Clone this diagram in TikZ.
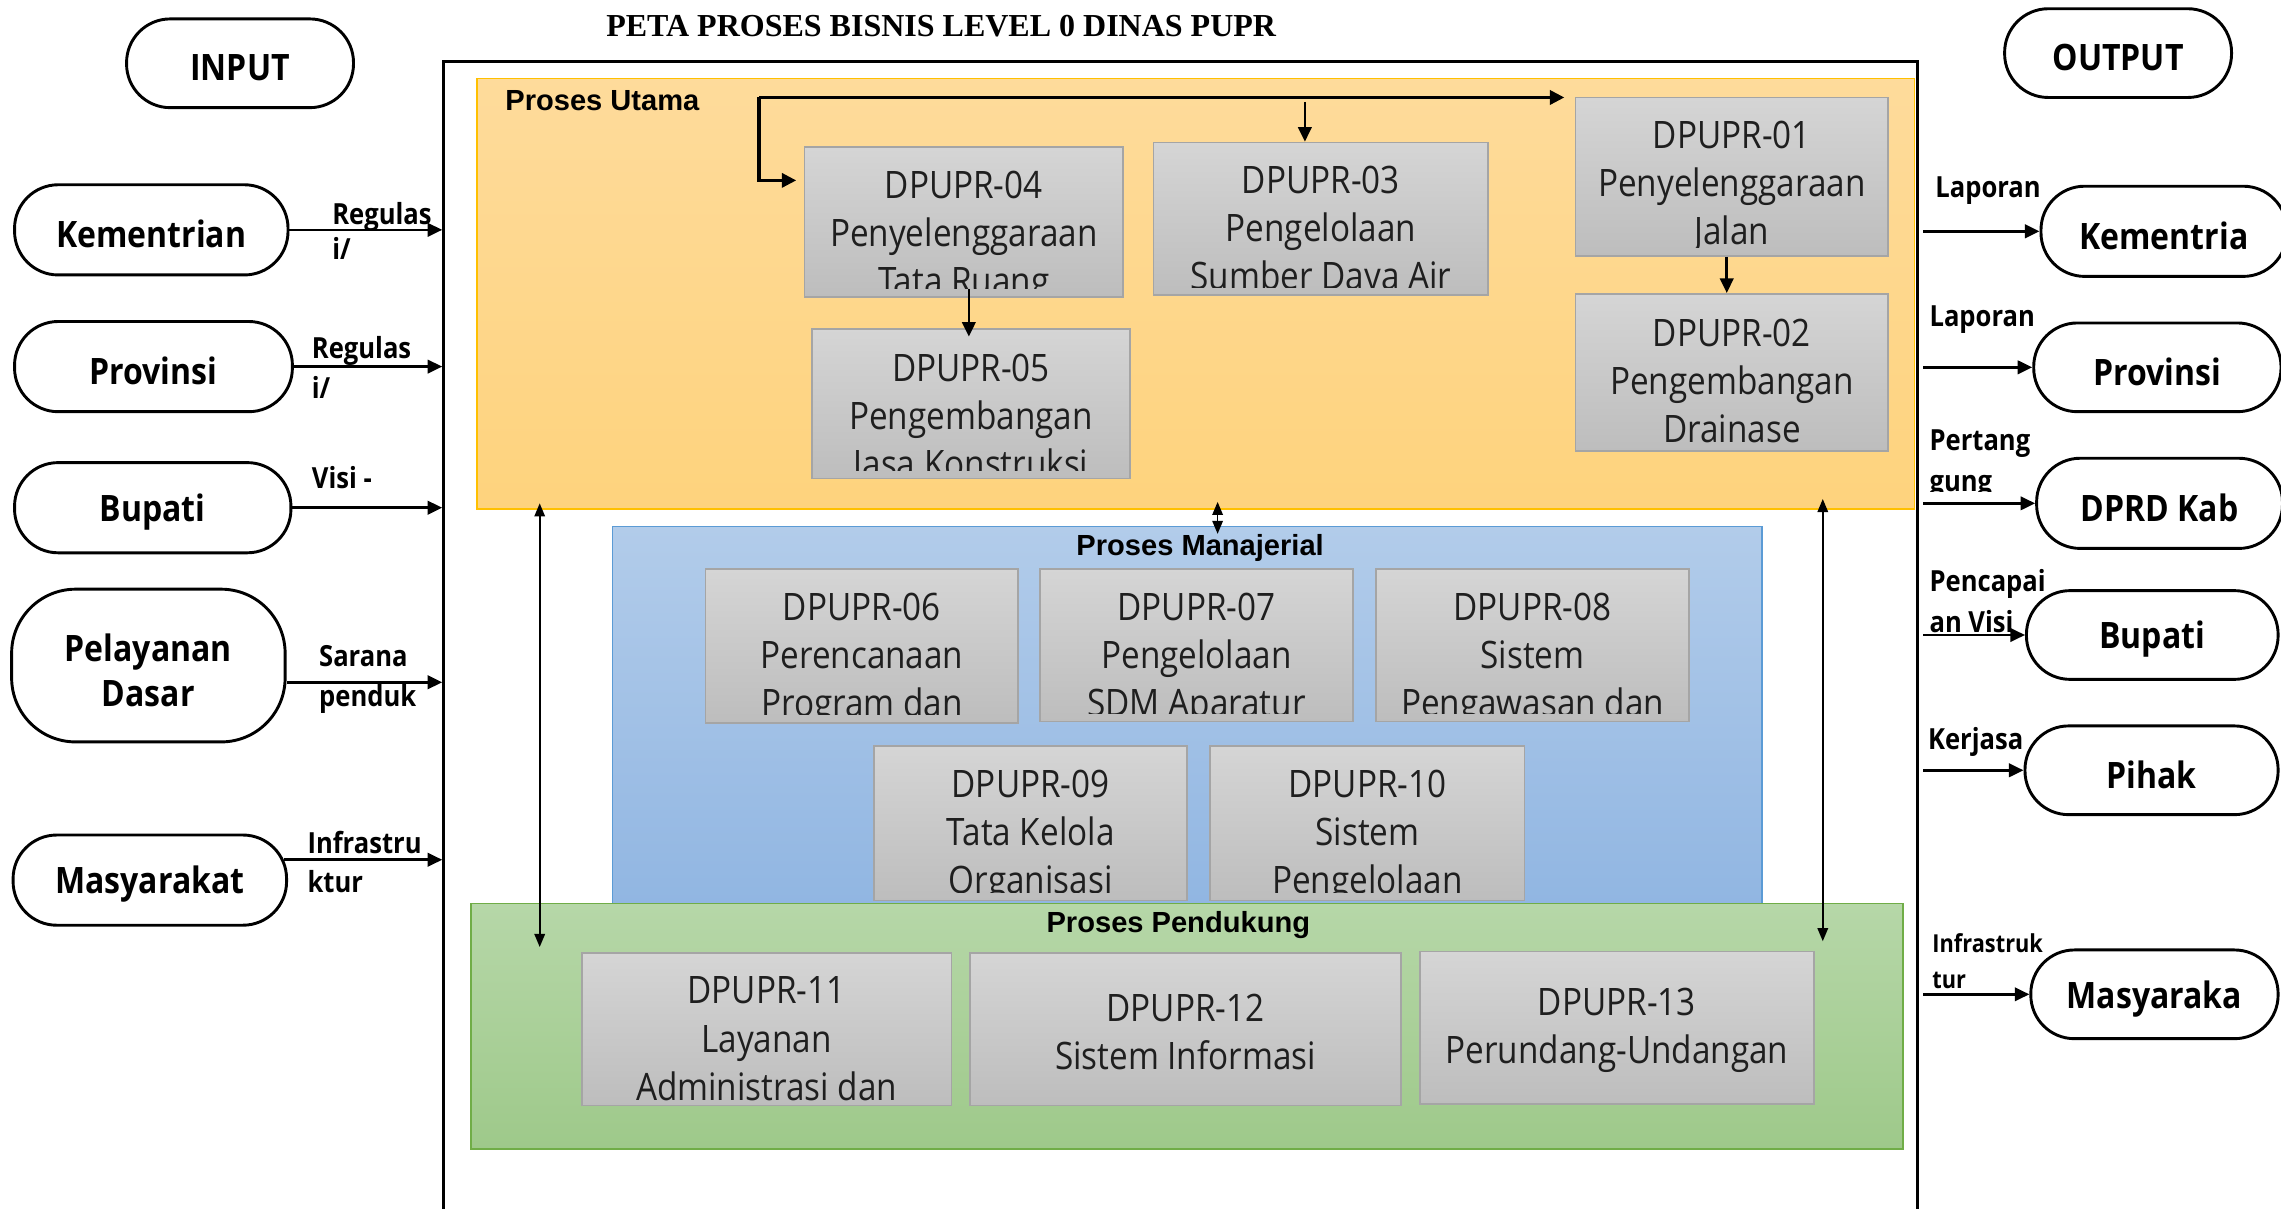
\documentclass[tikz,border=0pt]{standalone}
\usepackage{fontspec}
\usetikzlibrary{arrows.meta}
\newfontfamily\seg{Open Sans}[FakeStretch=0.88]
\newfontfamily\arb{Liberation Sans}
\newfontfamily\tms{Liberation Serif}
\definecolor{yelT}{RGB}{254,219,155}
\definecolor{yelB}{RGB}{254,211,125}
\definecolor{yelL}{RGB}{255,192,0}
\definecolor{bluT}{RGB}{178,204,234}
\definecolor{bluB}{RGB}{145,182,226}
\definecolor{bluL}{RGB}{91,155,213}
\definecolor{grnT}{RGB}{182,215,168}
\definecolor{grnB}{RGB}{158,201,138}
\definecolor{grnL}{RGB}{112,173,71}
\definecolor{boxT}{RGB}{213,213,213}
\definecolor{boxB}{RGB}{189,189,189}
\definecolor{boxL}{RGB}{165,165,165}
\begin{document}
\begin{tikzpicture}[x=0.5pt,y=-0.5pt,
  clipin/.store in=\clipin, clipin=2.8pt,
  textoff/.store in=\textoff, textoff=31pt,
  ovaltext/.style={inner sep=0pt, align=center, font=\seg\bfseries\fontsize{12.5}{15.5}\selectfont},
  oval/.style={draw=black, line width=1pt, rounded corners=15pt, inner sep=0pt,
    path picture={\node[ovaltext] at ([yshift=-1.5pt]path picture bounding box.center) {#1};}},
  conn/.style={line width=0.9pt, -{Triangle[length=5pt,width=4.6pt]}},
  dbl/.style={line width=0.6pt, {Triangle[length=4.5pt,width=3.6pt]}-{Triangle[length=4.5pt,width=3.6pt]}},
  lbl/.style={inner sep=0pt, anchor=west, align=left, font=\seg\bfseries\fontsize{10}{13.5}\selectfont},
  sect/.style={inner sep=0pt, font=\arb\bfseries\fontsize{10}{12}\selectfont},
  panel/.style={inner sep=0pt, line width=0.6pt},
  boxtext/.style={align=center, inner sep=0pt, font=\seg\fontsize{13}{16.5}\selectfont, text=black!88},
  procbox/.style={draw=boxL, line width=0.6pt, top color=boxT, bottom color=boxB, inner sep=0pt,
    path picture={\clip ([yshift=\clipin]path picture bounding box.south west) rectangle (path picture bounding box.north east);
      \node[boxtext] at ([yshift=-\textoff]path picture bounding box.north) {#1};}},
  procboxc/.style={draw=boxL, line width=0.6pt, top color=boxT, bottom color=boxB, inner sep=0pt,
    path picture={\node[boxtext] at ([yshift=-1pt]path picture bounding box.center) {#1};}}
]
\useasboundingbox (0,0) rectangle (1568,831);
\clip (0,0) rectangle (1568,831);

% title
\node[font=\tms\bfseries\fontsize{11}{13}\selectfont, inner sep=0pt] (title) at (647,18) {PETA PROSES BISNIS LEVEL 0 DINAS PUPR};

% frame
\coordinate (frL) at (304,42);
\coordinate (frR) at (1322,42);
\draw[line width=1pt] (305,860) -- (305,42) -- (1318,42) -- (1318,860);

% panels
\node[panel, draw=yelL, top color=yelT, bottom color=yelB, minimum width=494pt, minimum height=148pt] (yel) at (822,202) {};
\node[panel, draw=bluL, top color=bluT, bottom color=bluB, minimum width=395pt, minimum height=129.5pt] (blu) at (816,491.5) {};
\node[panel, draw=grnL, top color=grnT, bottom color=grnB, minimum width=492pt, minimum height=84.5pt] (grn) at (816,705.5) {};

\node[sect, anchor=west] (tUt) at (347,69) {Proses Utama};
\node[sect] (tMan) at (825,377) {Proses Manajerial};
\node[sect] (tPen) at (810,636) {Proses Pendukung};

% process boxes
\node[procbox={DPUPR-04\\Penyelenggaraan\\Tata Ruang}, minimum width=109.5pt, minimum height=51.5pt] (b04) at (662.5,152.5) {};
\node[procbox={DPUPR-03\\Pengelolaan\\Sumber Daya Air}, minimum width=115pt, minimum height=52.5pt] (b03) at (908,150.5) {};
\node[procbox={DPUPR-01\\Penyelenggaraan\\Jalan}, textoff=30.5pt, minimum width=107.5pt, minimum height=54.5pt] (b01) at (1190.5,121.5) {};
\node[procbox={DPUPR-02\\Pengembangan\\Drainase}, textoff=30pt, minimum width=107.5pt, minimum height=54pt] (b02) at (1190.5,256) {};
\node[procbox={DPUPR-05\\Pengembangan\\Jasa Konstruksi}, minimum width=109.5pt, minimum height=51.5pt] (b05) at (667.5,277.5) {};

\node[procbox={DPUPR-06\\Perencanaan\\Program dan}, minimum width=107.5pt, minimum height=53pt] (b06) at (592.5,444) {};
\node[procbox={DPUPR-07\\Pengelolaan\\SDM Aparatur}, minimum width=107.5pt, minimum height=52.5pt] (b07) at (822.5,443.5) {};
\node[procbox={DPUPR-08\\Sistem\\Pengawasan dan}, minimum width=107.5pt, minimum height=52.5pt] (b08) at (1053.5,443.5) {};
\node[procbox={DPUPR-09\\Tata Kelola\\Organisasi}, minimum width=107.5pt, minimum height=53pt] (b09) at (708.5,566) {};
\node[procbox={DPUPR-10\\Sistem\\Pengelolaan}, minimum width=108pt, minimum height=53pt] (b10) at (940,566) {};

\node[procbox={DPUPR-11\\Layanan\\Administrasi dan}, textoff=29.5pt, clipin=1pt, minimum width=127pt, minimum height=52.5pt] (b11) at (527,707.5) {};
\node[procboxc={DPUPR-12\\Sistem Informasi}, minimum width=148pt, minimum height=52.5pt] (b12) at (815,707.5) {};
\node[procboxc={DPUPR-13\\Perundang-Undangan}, minimum width=135.5pt, minimum height=52.5pt] (b13) at (1111.5,706.5) {};

% connectors inside Proses Utama
\coordinate (j1) at (522,67);
\coordinate (j2) at (522,124);
\coordinate (j3) at (897,70);
\draw[line width=1.3pt, -{Triangle[length=5pt,width=4.8pt]}, shorten >=3.5pt] (j1) -- (j1 -| b01.west);
\draw[line width=1.3pt, -{Triangle[length=5pt,width=4.8pt]}, shorten >=2.5pt] (j1) -- (j2) -- (j2 -| b04.west);
\draw[conn] (j3) -- (j3 |- b03.north);
\draw[conn] ([shift={(1.75pt,3pt)}]b04.south) -- ([shift={(-0.75pt,-3pt)}]b05.north);
\draw[conn] ([xshift=-1.75pt]b01.south) -- ([xshift=-1.75pt]b02.north);

% double arrows
\coordinate (dl1) at (371,346);
\coordinate (dl2) at (371,651);
\coordinate (dm1) at (837,345);
\coordinate (dm2) at (837,367);
\coordinate (dr1) at (1253,343);
\coordinate (dr2) at (1253,647);
\draw[dbl] (dl1) -- (dl2);
\draw[dbl] (dm1) -- (dm2);
\draw[dbl] (dr1) -- (dr2);

% input side
\node[oval={INPUT}, minimum width=78pt, minimum height=30.5pt] (inp) at (165,43.5) {};
\node[oval={Kementrian}, minimum width=94pt, minimum height=31pt] (kem) at (104,158) {};
\node[oval={Provinsi}, minimum width=95.5pt, minimum height=31pt] (prov) at (105.5,252) {};
\node[oval={Bupati}, minimum width=95pt, minimum height=31pt] (bup) at (105,349) {};
\node[oval={Pelayanan\\Dasar}, rounded corners=22pt, minimum width=94pt, minimum height=52.5pt] (pel) at (102,457.5) {};
\node[oval={Masyarakat}, minimum width=94pt, minimum height=31pt] (mas) at (103,605) {};

\coordinate (pelA) at ([yshift=-5.75pt]pel.east);
\coordinate (masA) at ([shift={(-1.5pt,7pt)}]mas.east);
\draw[conn] (kem.east) -- (kem.east -| frL);
\draw[conn] (prov.east) -- (prov.east -| frL);
\draw[conn] (bup.east) -- (bup.east -| frL);
\draw[conn] (pelA) -- (pelA -| frL);
\draw[conn] (masA) -- (masA -| frL);

\node[lbl, font=\seg\bfseries\fontsize{10}{12}\selectfont] (lKem) at (228,159) {Regulas\\i/};
\node[lbl] (lProv) at (214,252.5) {Regulas\\i/};
\node[lbl] (lBup) at (214,328) {Visi -};
\node[lbl, font=\seg\bfseries\fontsize{10}{14}\selectfont] (lPel) at (219,467) {Sarana\\penduk};
\node[lbl] (lMas) at (211,592.5) {Infrastru\\ktur};

% output side
\node[oval={OUTPUT}, minimum width=78pt, minimum height=30.5pt] (outp) at (1456,36.5) {};
\node[oval={Kementria}, minimum width=84.5pt, minimum height=31pt] (kemR) at (1487.5,159) {};
\node[oval={Provinsi}, minimum width=85pt, minimum height=30.5pt] (provR) at (1483,252.5) {};
\node[oval={DPRD Kab}, minimum width=84.5pt, minimum height=31pt] (dprR) at (1484.5,346) {};
\node[oval={Bupati}, minimum width=86.5pt, minimum height=30.5pt] (bupR) at (1479.5,436.5) {};
\node[oval={Pihak}, minimum width=87pt, minimum height=30.5pt] (pihR) at (1479,529.5) {};
\node[oval={Masyaraka}, minimum width=85pt, minimum height=30.5pt] (masR) at (1481,683.5) {};

\draw[conn] (frR |- kemR.west) -- (kemR.west);
\draw[conn] (frR |- provR.west) -- (provR.west);
\draw[conn] (frR |- dprR.west) -- (dprR.west);
\draw[conn] (frR |- bupR.west) -- (bupR.west);
\draw[conn] (frR |- pihR.west) -- (pihR.west);
\draw[conn] (frR |- masR.west) -- (masR.west);

\node[lbl] (rKem) at (1330,131) {Laporan};
\node[lbl] (rProv) at (1326,220) {Laporan};
\begin{scope}
  \clip (1320,280) rectangle (1412,338);
  \node[lbl, font=\seg\bfseries\fontsize{10}{14}\selectfont] (rDprd) at (1326,319) {Pertang\\gung};
\end{scope}
\node[lbl, font=\seg\bfseries\fontsize{10}{14}\selectfont] (rBup) at (1326,413) {Pencapai\\an Visi};
\node[lbl] (rPih) at (1325,510) {Kerjasa};
\node[lbl, font=\seg\bfseries\fontsize{8.5}{12.5}\selectfont] (rMas) at (1328,660.5) {Infrastruk\\tur};
\end{tikzpicture}
\end{document}
